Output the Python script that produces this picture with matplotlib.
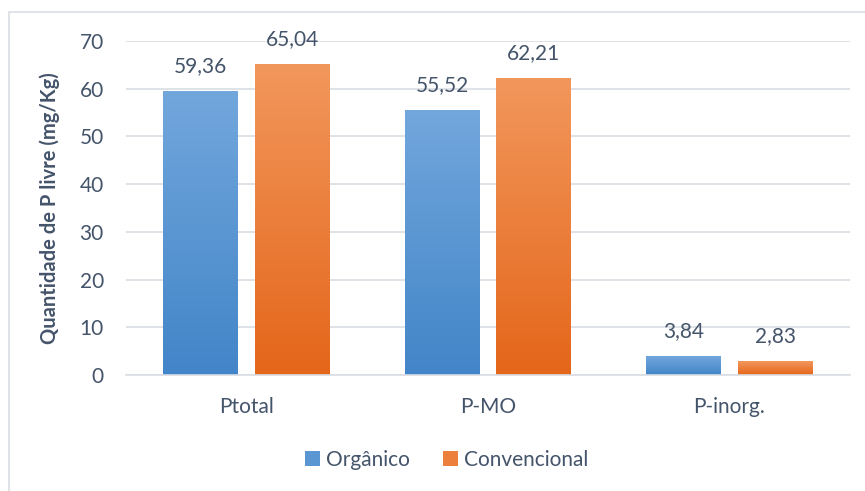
import numpy as np
import matplotlib
matplotlib.use("Agg")
import matplotlib.pyplot as plt
from matplotlib.colors import LinearSegmentedColormap
from matplotlib.patches import Rectangle

# data
categorias = ["Ptotal", "P-MO", "P-inorg."]
organico = [59.36, 55.52, 3.84]
convencional = [65.04, 62.21, 2.83]
series = ["Orgânico", "Convencional"]

plt.rcParams['font.family'] = ['Lato', 'DejaVu Sans']
txt = '#44546A'

fig = plt.figure(figsize=(8.65, 4.91), dpi=100)
ax = fig.add_axes([126/865, 1-375/491, (850-126)/865, (375-41)/491])

# moldura do grafico (estilo Excel)
fig.patches.append(Rectangle((9/865, -0.05), 1.0, 1-12/491+0.05, transform=fig.transFigure,
                             fill=False, edgecolor='#D9DDE3', linewidth=1.2))

cmaps = [
    LinearSegmentedColormap.from_list('azul', ['#4285C8', '#72A7DC']),
    LinearSegmentedColormap.from_list('laranja', ['#E4661A', '#F2975C']),
]
fill_colors = ['#5B9BD5', '#ED7D31']

w = 0.31
gap = 0.07
x = np.arange(len(categorias))
offsets = [-(w + gap) / 2, (w + gap) / 2]
grad = np.linspace(0, 1, 256).reshape(-1, 1)

for vals, off, cm, fc, name in zip([organico, convencional], offsets, cmaps, fill_colors, series):
    bars = ax.bar(x + off, vals, width=w, color=fc, label=name, zorder=2)
    for b, v in zip(bars, vals):
        x0 = b.get_x()
        # degradê vertical dentro da barra
        ax.imshow(grad, cmap=cm, origin='lower', aspect='auto',
                  extent=(x0, x0 + w, 0, v), zorder=2.5)
        ax.text(x0 + w / 2, v + 3.2, f"{v:.2f}".replace('.', ','), ha='center', va='bottom',
                fontsize=15, color=txt, zorder=4)

ax.set_xlim(-0.5, 2.5)
ax.set_ylim(0, 70)
ax.set_yticks(range(0, 71, 10))
ax.grid(axis='y', color='#D9DDE3', linewidth=1.2, zorder=0)
ax.set_axisbelow(True)
for s in ['top', 'right', 'left']:
    ax.spines[s].set_visible(False)
ax.spines['bottom'].set_color('#D9DDE3')
ax.spines['bottom'].set_linewidth(1.2)
ax.tick_params(length=0, labelsize=15, colors=txt)
ax.tick_params(axis='x', pad=16)
ax.tick_params(axis='y', pad=16)
ax.set_xticks(x)
ax.set_xticklabels(categorias)
ax.set_ylabel("Quantidade de P livre (mg/Kg)", fontsize=14.5, fontweight='bold', color=txt, labelpad=14)

handles, labels = ax.get_legend_handles_labels()
leg = fig.legend(handles, labels, loc='center', bbox_to_anchor=(447/865, 1-460/491), ncol=2,
                 frameon=False, fontsize=15, handlelength=0.7, handleheight=0.7,
                 handletextpad=0.3, columnspacing=1.6)
for t in leg.get_texts():
    t.set_color(txt)
for h, cm in zip(leg.legend_handles, cmaps):
    h.set_facecolor(cm(0.5))

plt.savefig('out.png', dpi=100)
